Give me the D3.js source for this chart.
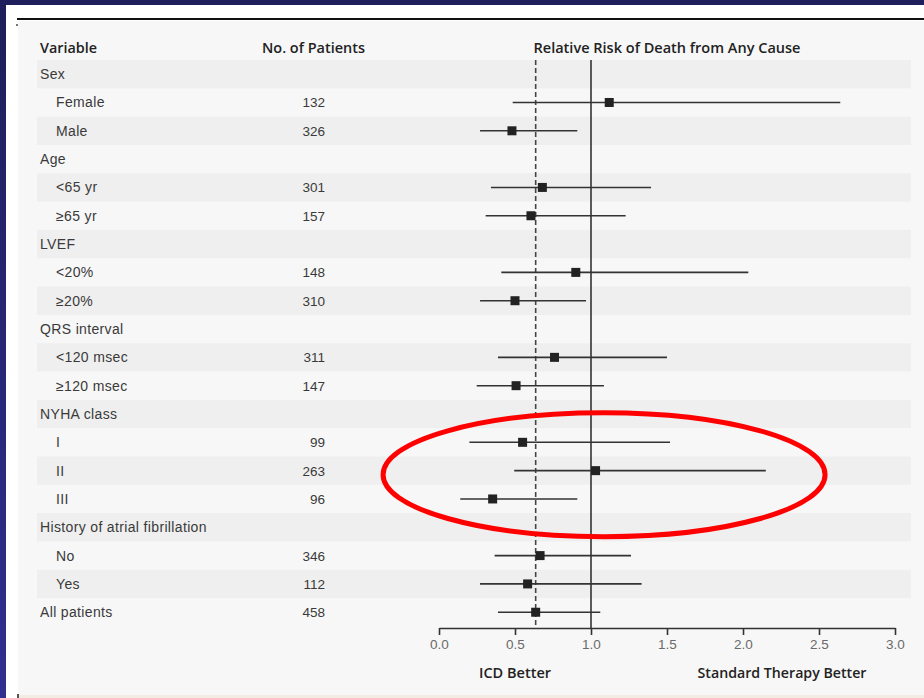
<!DOCTYPE html>
<html>
<head>
<meta charset="utf-8">
<script src="https://cdn.jsdelivr.net/npm/d3@7"></script>
<style>
  html, body { margin: 0; padding: 0; background: #1f1f5d; }
  svg { display: block; }
  text { font-family: "Liberation Sans", Arial, sans-serif; }
  .head { font-family: "Open Sans", "Liberation Sans", sans-serif; font-weight: 600; }
</style>
</head>
<body>
<svg id="chart" width="924" height="698"></svg>
<script>
// Subgroup rows of the forest plot (top to bottom)
const rowLabels = ["Sex", "Female", "Male", "Age", "<65 yr", "≥65 yr", "LVEF", "<20%", "≥20%",
  "QRS interval", "<120 msec", "≥120 msec", "NYHA class", "I", "II", "III",
  "History of atrial fibrillation", "No", "Yes", "All patients"];
const isSubgroup = [false, true, true, false, true, true, false, true, true,
  false, true, true, false, true, true, true, false, true, true, false];
const patients = [null, 132, 326, null, 301, 157, null, 148, 310, null, 311, 147,
  null, 99, 263, 96, null, 346, 112, 458];
// Relative risk point estimates with 95% confidence limits
const riskEstimate = [null, 1.12, 0.48, null, 0.68, 0.605, null, 0.90, 0.50, null, 0.76, 0.507,
  null, 0.55, 1.03, 0.353, null, 0.665, 0.583, 0.636];
const ciLow = [null, 0.485, 0.27, null, 0.342, 0.307, null, 0.41, 0.27, null, 0.388, 0.248,
  null, 0.20, 0.495, 0.14, null, 0.366, 0.27, 0.388];
const ciHigh = [null, 2.64, 0.91, null, 1.395, 1.228, null, 2.035, 0.967, null, 1.50, 1.085,
  null, 1.52, 2.15, 0.91, null, 1.263, 1.333, 1.061];
const axisTicks = [0, 0.5, 1.0, 1.5, 2.0, 2.5, 3.0];
const headers = ["Variable", "No. of Patients", "Relative Risk of Death from Any Cause"];
const directionLabels = ["ICD Better", "Standard Therapy Better"];

const svg = d3.select("#chart");
const W = 924, H = 698;

// Slide frame: navy edge, white sheet, light panel
const grad = svg.append("defs").append("linearGradient")
  .attr("id", "edge").attr("x1", 0).attr("y1", 0).attr("x2", 0).attr("y2", 1);
grad.append("stop").attr("offset", "0%").attr("stop-color", "#1e1e5a");
grad.append("stop").attr("offset", "100%").attr("stop-color", "#2f2f90");
svg.append("rect").attr("width", W).attr("height", H).attr("fill", "#1f1f5d");
svg.append("rect").attr("x", 0).attr("y", 5).attr("width", 6).attr("height", H - 5).attr("fill", "url(#edge)");
svg.append("rect").attr("x", 6).attr("y", 5).attr("width", W - 6).attr("height", H - 5).attr("fill", "#ffffff");
svg.append("rect").attr("x", 18).attr("y", 21).attr("width", W - 18).attr("height", 674).attr("fill", "#f7f7f7");
svg.append("rect").attr("x", 18).attr("y", 695).attr("width", W - 18).attr("height", 3).attr("fill", "#f3ece3");
svg.append("line").attr("x1", 17).attr("x2", W).attr("y1", 19).attr("y2", 19)
  .attr("stroke", "#111").attr("stroke-width", 2);
svg.append("rect").attr("x", 16).attr("y", 24).attr("width", 2).attr("height", 2).attr("fill", "#777");
svg.append("rect").attr("x", 17).attr("y", 694).attr("width", 2).attr("height", 4).attr("fill", "#555");

// Scales
const x = d3.scaleLinear().domain([0, 3]).range([439, 895]);
const y = d3.scaleBand().domain(d3.range(rowLabels.length)).range([60, 626.4]).padding(0);
const cy = i => y(i) + y.bandwidth() / 2;

// Alternating row stripes
svg.append("g").selectAll("rect")
  .data(d3.range(rowLabels.length).filter(i => i % 2 === 0))
  .join("rect")
  .attr("x", 37).attr("width", 911 - 37)
  .attr("y", i => y(i)).attr("height", y.bandwidth())
  .attr("fill", "#efefef");

// Column headers
const headY = 53;
svg.append("text").attr("class", "head").attr("x", 40).attr("y", headY).text(headers[0])
  .attr("font-size", 15).attr("fill", "#222")
  .attr("textLength", 57).attr("lengthAdjust", "spacingAndGlyphs");
svg.append("text").attr("class", "head").attr("x", 262).attr("y", headY).text(headers[1])
  .attr("font-size", 15).attr("fill", "#222")
  .attr("textLength", 103).attr("lengthAdjust", "spacingAndGlyphs");
svg.append("text").attr("class", "head").attr("x", (x(0) + x(3)) / 2).attr("y", headY).text(headers[2])
  .attr("text-anchor", "middle")
  .attr("font-size", 15).attr("fill", "#222")
  .attr("textLength", 267).attr("lengthAdjust", "spacingAndGlyphs");

// Row labels and patient counts
const rows = svg.append("g");
rows.selectAll("text.label")
  .data(rowLabels)
  .join("text").attr("class", "label")
  .attr("x", (d, i) => isSubgroup[i] ? 56 : 40)
  .attr("y", (d, i) => cy(i) + 5)
  .attr("font-size", 14).attr("letter-spacing", 0.35).attr("fill", "#3a3a3a")
  .text(d => d);
rows.selectAll("text.count")
  .data(patients)
  .join("text").attr("class", "count")
  .attr("x", 325).attr("y", (d, i) => cy(i) + 5)
  .attr("text-anchor", "end")
  .attr("font-size", 13.5).attr("fill", "#3a3a3a")
  .text(d => d == null ? "" : d);

// Reference lines: no effect (1.0) and overall estimate
const overall = riskEstimate[riskEstimate.length - 1];
svg.append("line")
  .attr("x1", x(1)).attr("x2", x(1)).attr("y1", 60).attr("y2", 628)
  .attr("stroke", "#333").attr("stroke-width", 1.6);
svg.append("line")
  .attr("x1", x(overall)).attr("x2", x(overall)).attr("y1", 60).attr("y2", 628)
  .attr("stroke", "#444").attr("stroke-width", 1.6).attr("stroke-dasharray", "5,3");

// Confidence intervals and point estimates
const est = d3.range(rowLabels.length).filter(i => riskEstimate[i] != null);
svg.append("g").selectAll("line")
  .data(est)
  .join("line")
  .attr("x1", i => x(ciLow[i])).attr("x2", i => x(ciHigh[i]))
  .attr("y1", cy).attr("y2", cy)
  .attr("stroke", "#333").attr("stroke-width", 1.6);
const sq = 9;
svg.append("g").selectAll("rect")
  .data(est)
  .join("rect")
  .attr("x", i => x(riskEstimate[i]) - sq / 2)
  .attr("y", i => cy(i) - sq / 2)
  .attr("width", sq).attr("height", sq)
  .attr("fill", "#222");

// Horizontal axis
const axis = svg.append("g")
  .attr("transform", "translate(0,628)")
  .call(d3.axisBottom(x).tickValues(axisTicks).tickFormat(d3.format(".1f"))
    .tickSize(7).tickSizeOuter(0));
axis.select(".domain").attr("stroke", "#333").attr("stroke-width", 1.6);
axis.selectAll(".tick line").attr("stroke", "#333").attr("stroke-width", 1.6);
axis.selectAll(".tick text")
  .attr("font-family", "Liberation Sans, Arial, sans-serif")
  .attr("font-size", 13.5).attr("fill", "#6a6a6a").attr("dy", "0.55em").attr("y", 14);

// Direction labels under the axis
svg.append("text").attr("class", "head").attr("x", x(0.5)).attr("y", 678).attr("text-anchor", "middle")
  .attr("font-size", 15).attr("fill", "#222")
  .attr("textLength", 72).attr("lengthAdjust", "spacingAndGlyphs")
  .text(directionLabels[0]);
svg.append("text").attr("class", "head").attr("x", 782).attr("y", 678).attr("text-anchor", "middle")
  .attr("font-size", 15).attr("fill", "#222")
  .attr("textLength", 169).attr("lengthAdjust", "spacingAndGlyphs")
  .text(directionLabels[1]);

// Highlight around the NYHA class rows
const nyhaII = rowLabels.indexOf("II");
svg.append("ellipse")
  .attr("cx", x(1.086)).attr("cy", cy(nyhaII) + 4)
  .attr("rx", 221).attr("ry", 62)
  .attr("fill", "none").attr("stroke", "#ff0000").attr("stroke-width", 5);
</script>
</body>
</html>
